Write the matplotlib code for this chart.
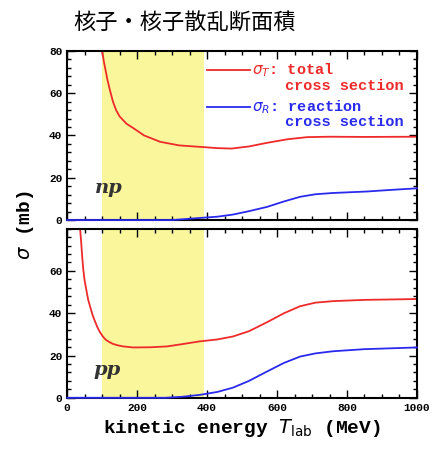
import numpy as np
import matplotlib
matplotlib.use('Agg')
from matplotlib import pyplot as plt
from matplotlib.ticker import MultipleLocator

# data (E in MeV, sigma in mb)
np_tot_E = [100, 105, 115, 123, 131, 140, 150, 170, 189, 220, 266, 320, 380, 430, 470, 520, 571, 630, 686, 750, 850, 1000]
np_tot_s = [80, 75, 66.5, 61, 56, 52, 49, 45.5, 43.5, 40, 37, 35.3, 34.6, 34.0, 33.8, 34.8, 36.5, 38.2, 39.2, 39.4, 39.3, 39.4]
np_rea_E = [0, 300, 380, 430, 474, 520, 571, 620, 666, 710, 760, 857, 930, 1000]
np_rea_s = [0, 0, 1.0, 1.6, 2.6, 4.2, 6.2, 8.8, 11, 12.2, 12.8, 13.5, 14.3, 15]
pp_tot_E = [37, 40, 43, 46, 50, 55, 60, 66, 73, 80, 87, 94, 102, 110, 120, 131, 145, 160, 189, 240, 286, 330, 380, 430, 474, 520, 571, 620, 666, 710, 760, 850, 1000]
pp_tot_s = [80, 74, 67, 61, 55.5, 51, 46.5, 43, 39, 36, 33.2, 31, 29, 27.5, 26.4, 25.5, 24.8, 24.3, 23.8, 23.9, 24.3, 25.4, 26.7, 27.6, 29, 31.5, 35.7, 40, 43.3, 45, 45.7, 46.3, 46.7]
pp_rea_E = [0, 280, 330, 380, 430, 474, 520, 571, 620, 666, 710, 760, 850, 1000]
pp_rea_s = [0, 0, 0.5, 1.4, 2.8, 4.8, 8, 12.4, 16.5, 19.5, 21, 22, 23, 23.8]

band = (100, 390)
title = '核子・核子散乱断面積'

mono = 'Liberation Mono'
red = '#ee2a2a'
blue = '#2a2aee'

fig = plt.figure(figsize=(4.33, 4.5), dpi=100)
ax1 = fig.add_axes([0.155, 0.511, 0.808, 0.376])
ax2 = fig.add_axes([0.155, 0.116, 0.808, 0.376])

for ax in (ax1, ax2):
	ax.axvspan(band[0], band[1], color='#f9f69c', zorder=0, lw=0)
	ax.set_xlim(0, 1000)
	ax.set_ylim(0, 80)
	ax.xaxis.set_major_locator(MultipleLocator(200))
	ax.xaxis.set_minor_locator(MultipleLocator(50))
	ax.yaxis.set_major_locator(MultipleLocator(20))
	ax.yaxis.set_minor_locator(MultipleLocator(4))
	ax.tick_params(which='both', direction='in', top=True, right=True, width=1.0)
	ax.tick_params(which='major', length=6)
	ax.tick_params(which='minor', length=3)
	for s in ax.spines.values():
		s.set_linewidth(1.5)
	for lab in ax.get_xticklabels() + ax.get_yticklabels():
		lab.set_fontfamily(mono)
		lab.set_fontweight('bold')
		lab.set_fontsize(8)

ax1.plot(np_tot_E, np_tot_s, color=red, lw=1.3)
ax1.plot(np_rea_E, np_rea_s, color=blue, lw=1.3, clip_on=False, zorder=3)
ax2.plot(pp_tot_E, pp_tot_s, color=red, lw=1.3)
ax2.plot(pp_rea_E, pp_rea_s, color=blue, lw=1.3, clip_on=False, zorder=3)

ax1.set_xticklabels([])
ax2.set_yticks([0, 20, 40, 60])
ax2.set_yticklabels(['0', '20', '40', '60'], fontfamily=mono, fontweight='bold', fontsize=8)

ax1.text(80, 13, 'np', fontsize=14, family='DejaVu Serif', style='italic', fontweight='bold', color='#333333')
ax2.text(75, 11, 'pp', fontsize=14, family='DejaVu Serif', style='italic', fontweight='bold', color='#333333')

# legend drawn by hand inside the top panel
ax1.plot([400, 523], [71, 71], color=red, lw=1.3)
ax1.plot([400, 523], [53.5, 53.5], color=blue, lw=1.3)
ax1.text(528, 71, r'$\sigma_T$: total', color=red, fontsize=11, family=mono, fontweight='bold', va='center')
ax1.text(622, 63.4, 'cross section', color=red, fontsize=11, family=mono, fontweight='bold', va='center')
ax1.text(528, 53.5, r'$\sigma_R$: reaction', color=blue, fontsize=11, family=mono, fontweight='bold', va='center')
ax1.text(622, 46.2, 'cross section', color=blue, fontsize=11, family=mono, fontweight='bold', va='center')

ax2.set_xlabel(r'kinetic energy $T_{\rm lab}$ (MeV)', fontsize=14, family=mono, fontweight='bold', labelpad=3)
fig.text(0.058, 0.5, r'$\sigma$ (mb)', rotation=90, fontsize=14, family=mono, fontweight='bold', va='center', ha='center')

fig.text(0.427, 0.951, title, fontsize=16, family=['Noto Sans CJK JP', 'DejaVu Sans'], ha='center', va='center')

fig.savefig('out.png', dpi=100)
